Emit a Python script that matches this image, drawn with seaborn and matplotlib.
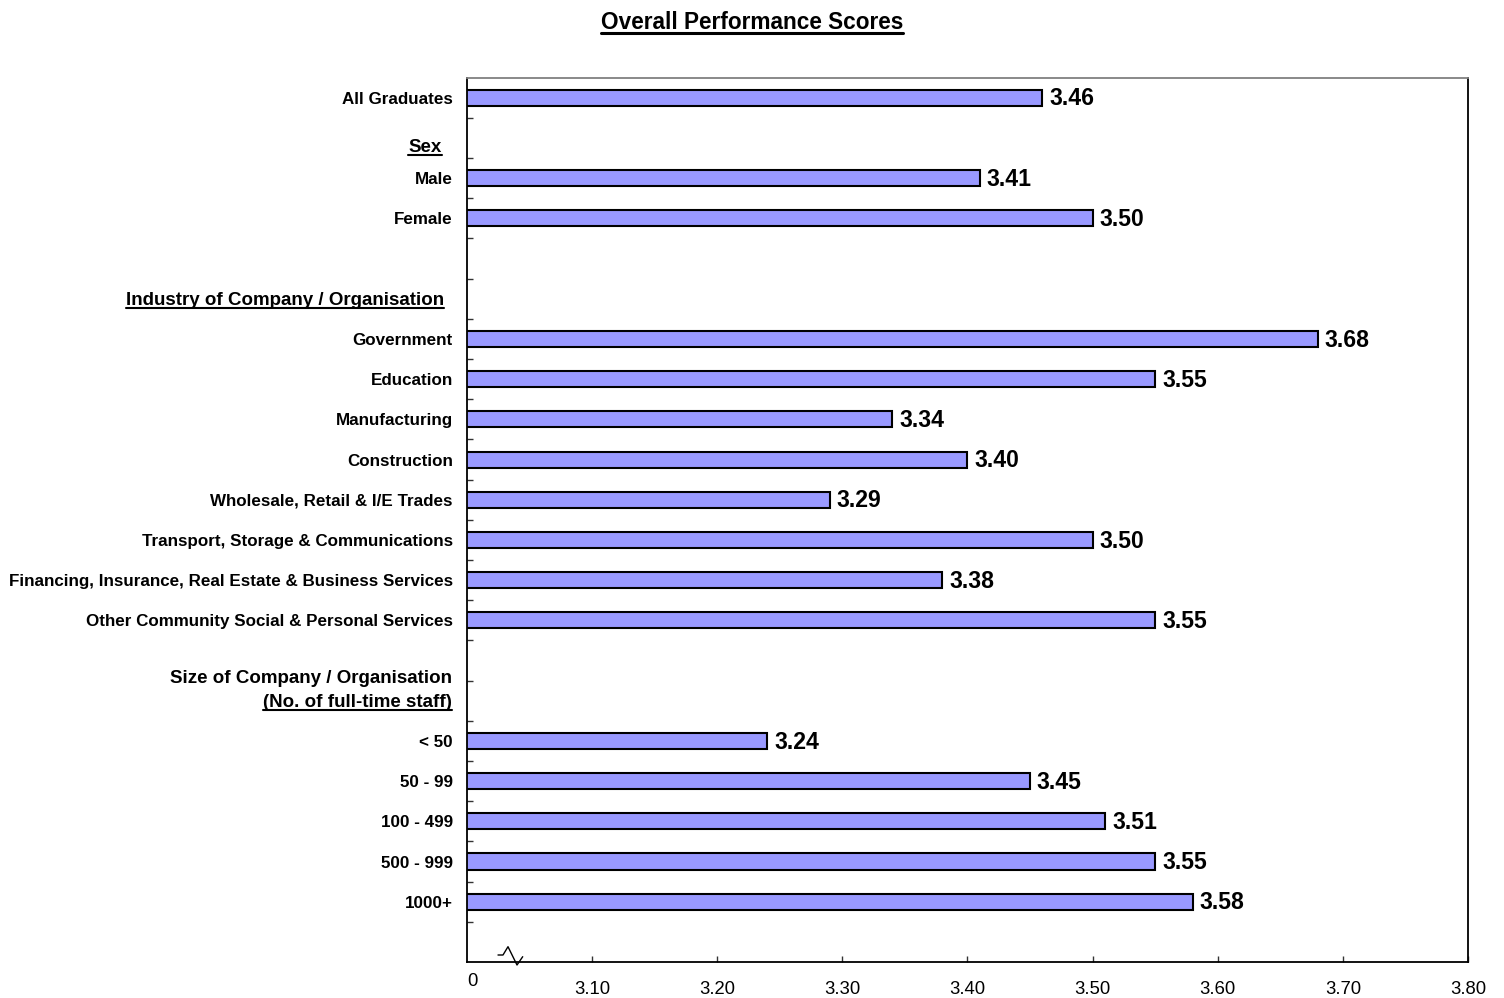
import matplotlib
matplotlib.use("Agg")
import matplotlib.pyplot as plt
import seaborn as sns
import pandas as pd
from matplotlib.lines import Line2D

sns.set_theme(style="white")
plt.rcParams['font.family'] = ['Liberation Sans', 'DejaVu Sans']

# ---- data ----
row_keys = ["All Graduates", "_b1", "Male", "Female", "_b2", "_h_ind",
            "Government", "Education", "Manufacturing", "Construction",
            "Wholesale, Retail & I/E Trades", "Transport, Storage & Communications",
            "Financing, Insurance, Real Estate & Business Services",
            "Other Community Social & Personal Services", "_b3", "_h_size",
            "< 50", "50 - 99", "100 - 499", "500 - 999", "1000+", "_b4"]
bar_categories = ["All Graduates", "Male", "Female", "Government", "Education",
                  "Manufacturing", "Construction", "Wholesale, Retail & I/E Trades",
                  "Transport, Storage & Communications",
                  "Financing, Insurance, Real Estate & Business Services",
                  "Other Community Social & Personal Services",
                  "< 50", "50 - 99", "100 - 499", "500 - 999", "1000+"]
scores = [3.46, 3.41, 3.50, 3.68, 3.55, 3.34, 3.40, 3.29, 3.50, 3.38, 3.55,
          3.24, 3.45, 3.51, 3.55, 3.58]
x_ticks = [3.1, 3.2, 3.3, 3.4, 3.5, 3.6, 3.7, 3.8]
x_tick_labels = ["3.10", "3.20", "3.30", "3.40", "3.50", "3.60", "3.70", "3.80"]
title = "Overall Performance Scores"
header_texts = ["Sex", "Industry of Company / Organisation",
                "Size of Company / Organisation", "(No. of full-time staff)"]

df = pd.DataFrame({"category": bar_categories, "score": scores})

# ---- layout ----
W, H = 1504, 998
LFS = 12.25
HFS = 13.5
header_baselines = [1.341, 5.155, 14.55, 15.16]    # in row units
header_dx = [-25, -23, -15, -15]                     # pixels from the axis
header_underline = [True, True, False, True]

fig = plt.figure(figsize=(W / 100, H / 100), dpi=100)
ax = fig.add_axes([466.7 / W, 1 - 962 / H, (1468 - 466.7) / W, (962 - 77.7) / H])

sns.barplot(data=df, x="score", y="category", order=row_keys, orient="h",
            color="#9999FF", saturation=1, edgecolor="black", linewidth=1.5,
            width=0.4, ax=ax)

ax.set_xlim(3.0, 3.8)
ax.set_ylim(len(row_keys) - 0.5, -0.5)
ax.set_xlabel("")
ax.set_ylabel("")

# y labels
ax.set_yticks(range(len(row_keys)))
ax.set_yticklabels(["" if k.startswith("_") else k for k in row_keys],
                   fontsize=LFS, fontweight="bold", color="black")
ax.tick_params(axis="y", which="major", length=0, pad=10)
ax.set_yticks([i + 0.5 for i in range(len(row_keys) - 1)], minor=True)
ax.tick_params(axis="y", which="minor", direction="in", length=4, width=1,
               color="#333333", left=True)

# x ticks
ax.set_xticks(x_ticks)
ax.set_xticklabels(x_tick_labels, fontsize=13.3, color="black")
ax.tick_params(axis="x", which="major", direction="in", length=4, width=1,
               color="#333333", bottom=True, pad=14)
ax.annotate("0", xy=(3.0, 0), xycoords=("data", "axes fraction"),
            xytext=(6, -19), textcoords="offset pixels", ha="center", va="center",
            fontsize=13.3, color="black")

for side in ["left", "bottom", "right"]:
    ax.spines[side].set_color("black")
    ax.spines[side].set_linewidth(1.3)
ax.spines["top"].set_color("#808080")
ax.spines["top"].set_linewidth(1.3)

# value labels
labels = ax.bar_label(ax.containers[0], fmt="%.2f", padding=5, fontsize=16.6,
                      fontweight="bold", color="black")
for lab in labels:
    lab.xyann = (lab.xyann[0], -0.8)

# axis break symbol
bx = [498, 503, 508, 517, 522.7]
by = [955, 955, 946.7, 965, 956.7]
fig.add_artist(Line2D([x / W for x in bx], [1 - y / H for y in by],
                      color="black", linewidth=1.0))

# header texts
underlined = []
for text, pos, dx, ul in zip(header_texts, header_baselines, header_dx, header_underline):
    t = ax.annotate(text, xy=(0, pos), xycoords=("axes fraction", "data"),
                    xytext=(dx, 0), textcoords="offset pixels", ha="right",
                    va="baseline", fontsize=HFS, fontweight="bold", color="black")
    if ul:
        base_disp = ax.transData.transform((3.0, pos))[1]
        underlined.append((t, base_disp - 3.3, 1.5))

tt = fig.text(0.5, 1 - 28.8 / H, title, ha="center", va="baseline", fontsize=16.3,
              fontweight="bold", color="black")
underlined.append((tt, H - 33, 2.2))

fig.canvas.draw()
renderer = fig.canvas.get_renderer()
for t, ypx, lw in underlined:
    bb = t.get_window_extent(renderer)
    fig.add_artist(Line2D([bb.x0 / W, bb.x1 / W], [ypx / H, ypx / H],
                          color="black", linewidth=lw))

fig.savefig("out.png", dpi=100, facecolor="white")
